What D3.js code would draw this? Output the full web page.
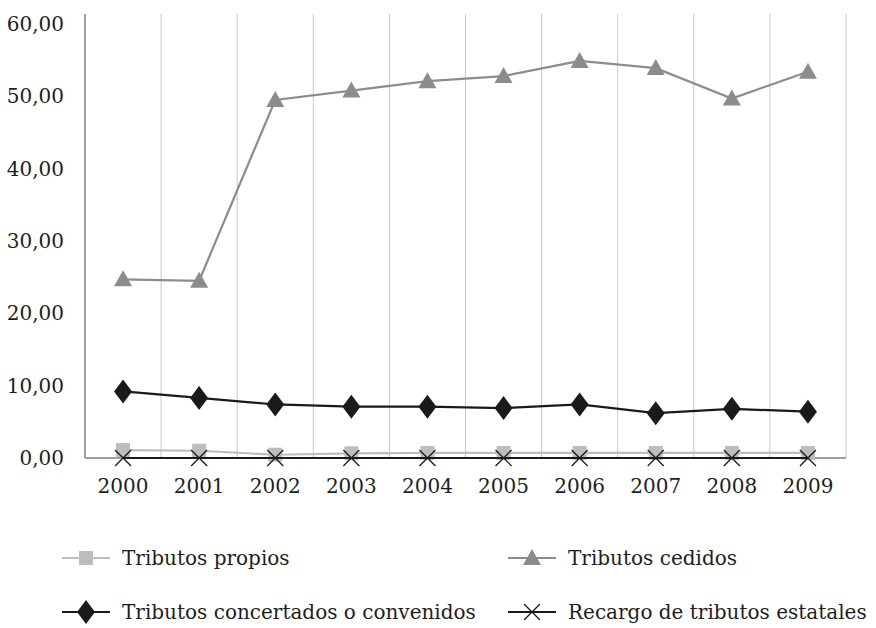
<!DOCTYPE html>
<html>
<head>
<meta charset="utf-8">
<script src="https://cdn.jsdelivr.net/npm/d3@7"></script>
<style>
  body { margin: 0; background: #fff; }
  text { font-family: "DejaVu Serif", serif; fill: #1e1e1e; }
</style>
</head>
<body>
<div id="chart"></div>
<script>
// years on the x axis
var years = ['2000','2001','2002','2003','2004','2005','2006','2007','2008','2009'];

// series values
var propios     = [1.1, 1.0, 0.45, 0.65, 0.7, 0.7, 0.7, 0.7, 0.7, 0.7];
var cedidos     = [24.7, 24.5, 49.5, 50.8, 52.1, 52.8, 54.9, 53.9, 49.7, 53.4];
var concertados = [9.2, 8.3, 7.4, 7.1, 7.1, 6.9, 7.4, 6.2, 6.8, 6.4];
var recargo     = [0, 0, 0, 0, 0, 0, 0, 0, 0, 0];

var yTicks = [0, 10, 20, 30, 40, 50, 60];

var series = [
    {name: 'Tributos propios', values: propios, color: '#bdbdbd', marker: 'square'},
    {name: 'Tributos cedidos', values: cedidos, color: '#8c8c8c', marker: 'triangle'},
    {name: 'Tributos concertados o convenidos', values: concertados, color: '#1a1a1a', marker: 'diamond'},
    {name: 'Recargo de tributos estatales', values: recargo, color: '#1a1a1a', marker: 'cross'}
];

var width = 876, height = 628;
var margin = {top: 14, right: 30, bottom: 170, left: 85};
var fontSize = '20px';

var svg = d3.select('#chart').append('svg')
    .attr('width', width)
    .attr('height', height);

var x = d3.scaleBand().domain(years).range([margin.left, width - margin.right]);
var y = d3.scaleLinear().domain([0, 60]).range([height - margin.bottom, 24]);

// vertical gridlines at category boundaries
svg.append('g').selectAll('line')
    .data(years)
    .enter()
    .append('line')
    .attr('x1', function(d){ return x(d) + x.bandwidth(); })
    .attr('x2', function(d){ return x(d) + x.bandwidth(); })
    .attr('y1', margin.top)
    .attr('y2', y(0))
    .attr('stroke', '#c8c8c8')
    .attr('stroke-width', 1);

// y axis line
svg.append('line')
    .attr('x1', margin.left).attr('x2', margin.left)
    .attr('y1', margin.top).attr('y2', y(0))
    .attr('stroke', '#808080').attr('stroke-width', 1.5);

// x axis line
svg.append('line')
    .attr('x1', margin.left).attr('x2', width - margin.right)
    .attr('y1', y(0)).attr('y2', y(0))
    .attr('stroke', '#808080').attr('stroke-width', 1.5);

// y tick labels
var fmt = function(v){ return d3.format('.2f')(v).replace('.', ','); };
svg.append('g').selectAll('text')
    .data(yTicks)
    .enter()
    .append('text')
    .attr('x', 64)
    .attr('y', function(d){ return y(d); })
    .attr('dy', '0.35em')
    .attr('text-anchor', 'end')
    .style('font-size', fontSize)
    .text(fmt);

// x tick labels
svg.append('g').selectAll('text')
    .data(years)
    .enter()
    .append('text')
    .attr('x', function(d){ return x(d) + x.bandwidth()/2; })
    .attr('y', 493)
    .attr('text-anchor', 'middle')
    .style('font-size', fontSize)
    .text(function(d){ return d; });

function drawMarker(g, type, color)
{
    if (type === 'square') {
        g.append('rect').attr('x', -7).attr('y', -7).attr('width', 14).attr('height', 14).attr('fill', color);
    } else if (type === 'triangle') {
        g.append('path').attr('d', 'M0,-9 L9,7 L-9,7 Z').attr('fill', color);
    } else if (type === 'diamond') {
        g.append('path').attr('d', 'M0,-12 L9,0 L0,12 L-9,0 Z').attr('fill', color);
    } else if (type === 'cross') {
        g.append('path').attr('d', 'M-8,-8 L8,8 M-8,8 L8,-8').attr('stroke', color).attr('stroke-width', 1.3).attr('fill', 'none');
    }
}

var line = d3.line()
    .x(function(d, i){ return x(years[i]) + x.bandwidth()/2; })
    .y(function(d){ return y(d); });

series.forEach(function(s)
{
    svg.append('path')
        .datum(s.values)
        .attr('d', line)
        .attr('fill', 'none')
        .attr('stroke', s.color)
        .attr('stroke-width', 2.2);

    s.values.forEach(function(v, i)
    {
        var g = svg.append('g')
            .attr('transform', 'translate(' + (x(years[i]) + x.bandwidth()/2) + ',' + y(v) + ')');
        drawMarker(g, s.marker, s.color);
    });
});

// legend, two columns, two rows
var legendPos = [[62, 558], [508, 558], [62, 612], [508, 612]];
series.forEach(function(s, i)
{
    var lx = legendPos[i][0], ly = legendPos[i][1];
    svg.append('line')
        .attr('x1', lx).attr('x2', lx + 48)
        .attr('y1', ly).attr('y2', ly)
        .attr('stroke', s.color).attr('stroke-width', 2.2);
    var g = svg.append('g').attr('transform', 'translate(' + (lx + 24) + ',' + ly + ')');
    drawMarker(g, s.marker, s.color);
    svg.append('text')
        .attr('x', lx + 60)
        .attr('y', ly)
        .attr('dy', '0.35em')
        .style('font-size', fontSize)
        .text(s.name);
});
</script>
</body>
</html>
